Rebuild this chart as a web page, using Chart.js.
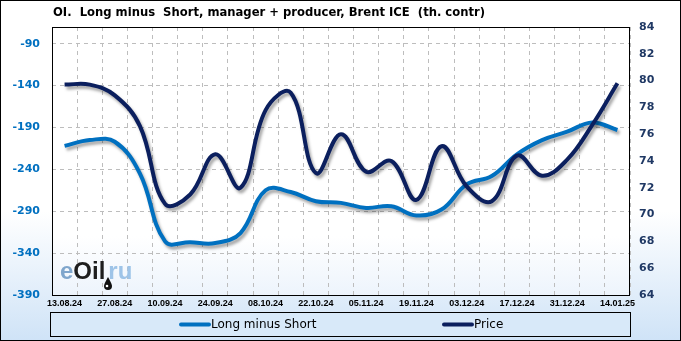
<!DOCTYPE html>
<html>
<head>
<meta charset="utf-8">
<script src="https://cdn.jsdelivr.net/npm/chart.js@4.4.1/dist/chart.umd.min.js"></script>
<style>
  html, body { margin: 0; padding: 0; background: #fff; }
  #chartCanvas { display: block; }
</style>
</head>
<body>
<canvas id="chartCanvas" width="681" height="341"></canvas>
<script>
// weekly dates (every other one is shown on the axis)
const dates = ['13.08.24', '20.08.24', '27.08.24', '03.09.24', '10.09.24', '17.09.24', '24.09.24',
    '01.10.24', '08.10.24', '15.10.24', '22.10.24', '29.10.24', '05.11.24', '12.11.24', '19.11.24',
    '26.11.24', '03.12.24', '10.12.24', '17.12.24', '24.12.24', '31.12.24', '07.01.25', '14.01.25'];

// Long minus Short, th. contracts (left axis)
const longMinusShort = [-212, -205, -207, -245, -326, -327, -328, -316, -265, -267, -278, -280,
    -286, -284, -295, -288, -258, -248, -222, -205, -195, -184, -193];

// Brent price (right axis)
const price = [79.7, 79.7, 78.9, 76.6, 70.8, 71.5, 74.5, 72.0, 77.8, 79.1, 73.1, 76.0,
    73.2, 74.0, 71.1, 75.1, 72.1, 71.0, 74.4, 72.9, 74.1, 76.7, 79.8];

const leftTicks = [-390, -340, -290, -240, -190, -140, -90];
const rightTicks = [64, 66, 68, 70, 72, 74, 76, 78, 80, 82, 84];

const title = 'OI.  Long minus  Short, manager + producer, Brent ICE  (th. contr)';

const colorLong = '#0070c0';
const colorPrice = '#0b1f5e';

// background, plot area fill, watermark
const backgroundPlugin = {
    id: 'background',
    beforeDraw(chart) {
        const ctx = chart.ctx;
        const a = chart.chartArea;
        ctx.save();
        let g = ctx.createLinearGradient(0, 0, 0, chart.height);
        g.addColorStop(0, '#ffffff');
        g.addColorStop(0.62, '#ffffff');
        g.addColorStop(1, '#cfe3f7');
        ctx.fillStyle = g;
        ctx.fillRect(0, 0, chart.width, chart.height);

        g = ctx.createLinearGradient(0, a.top, 0, a.bottom);
        g.addColorStop(0, '#ffffff');
        g.addColorStop(0.78, '#ffffff');
        g.addColorStop(1, '#edf4fc');
        ctx.fillStyle = g;
        ctx.fillRect(a.left, a.top, a.right - a.left, a.bottom - a.top);
        ctx.restore();
    },
    beforeDatasetsDraw(chart) {
        const ctx = chart.ctx;
        ctx.save();
        ctx.font = 'bold 24px "Liberation Sans"';
        ctx.textBaseline = 'alphabetic';
        let x = 60;
        const y = 279;
        ctx.fillStyle = '#7fa6cc';
        ctx.fillText('e', x, y);
        x += ctx.measureText('e').width;
        ctx.fillStyle = '#1e1e1e';
        ctx.fillText('Oil', x, y);
        x += ctx.measureText('Oil').width + 3;
        ctx.fillStyle = '#9ec4e8';
        ctx.fillText('ru', x, y);
        // small oil drop under the "l"
        ctx.fillStyle = '#111';
        ctx.beginPath();
        ctx.moveTo(108, 277);
        ctx.quadraticCurveTo(104, 284, 104, 286);
        ctx.arc(108, 286, 4, Math.PI, 0, true);
        ctx.quadraticCurveTo(112, 284, 108, 277);
        ctx.fill();
        ctx.fillStyle = '#fff';
        ctx.beginPath();
        ctx.arc(107, 286, 1.3, 0, Math.PI * 2);
        ctx.fill();
        ctx.restore();
    }
};

// soft shadow under the lines
const shadowPlugin = {
    id: 'lineShadow',
    beforeDatasetDraw(chart) {
        const ctx = chart.ctx;
        ctx.save();
        ctx.shadowColor = 'rgba(0, 0, 0, 0.35)';
        ctx.shadowBlur = 3;
        ctx.shadowOffsetX = 2;
        ctx.shadowOffsetY = 3;
    },
    afterDatasetDraw(chart) {
        chart.ctx.restore();
    }
};

// frames, title and the boxed legend
const framePlugin = {
    id: 'frames',
    afterDraw(chart) {
        const ctx = chart.ctx;
        const a = chart.chartArea;
        ctx.save();
        ctx.strokeStyle = '#000';
        ctx.lineWidth = 1;
        ctx.strokeRect(a.left + 0.5, a.top + 0.5, a.right - a.left - 1, a.bottom - a.top);
        ctx.strokeRect(0.5, 0.5, chart.width - 1, chart.height - 1);

        ctx.fillStyle = '#000';
        ctx.font = 'bold 11.6px "DejaVu Sans"';
        ctx.textBaseline = 'middle';
        ctx.fillText(title, 53, 13);

        // legend box
        const top = 312, bottom = 336;
        ctx.fillStyle = '#d8e9f9';
        ctx.fillRect(50, top, 581, bottom - top);
        ctx.strokeRect(50.5, top + 0.5, 580, bottom - top);

        const items = [
            { ds: chart.data.datasets[0], x: 181 },
            { ds: chart.data.datasets[1], x: 444 }
        ];
        ctx.font = '12px "DejaVu Sans"';
        items.forEach(it => {
            const y = (top + bottom) / 2 + 0.5;
            ctx.strokeStyle = it.ds.borderColor;
            ctx.lineWidth = 4;
            ctx.lineCap = 'round';
            ctx.beginPath();
            ctx.moveTo(it.x, y);
            ctx.lineTo(it.x + 28, y);
            ctx.stroke();
            ctx.fillStyle = '#000';
            ctx.fillText(it.ds.label, it.x + 30, y);
        });
        ctx.restore();
    }
};

const ctx = document.getElementById('chartCanvas').getContext('2d');

window.myChart = new Chart(ctx, {
    type: 'line',
    data: {
        labels: dates,
        datasets: [{
            label: 'Long minus Short',
            data: longMinusShort,
            yAxisID: 'y',
            borderColor: colorLong,
            borderWidth: 4,
            tension: 0.4,
            pointRadius: 0,
            order: 1
        }, {
            label: 'Price',
            data: price,
            yAxisID: 'y1',
            borderColor: colorPrice,
            borderWidth: 4,
            tension: 0.4,
            pointRadius: 0,
            order: 0
        }]
    },
    options: {
        responsive: false,
        animation: false,
        devicePixelRatio: 1,
        layout: { padding: { top: 27, bottom: 29, left: 0, right: 0 } },
        plugins: {
            legend: { display: false },
            title: { display: false },
            tooltip: { enabled: false }
        },
        scales: {
            x: {
                type: 'category',
                offset: true,
                afterFit(scale) { scale.height = 17; },
                grid: { offset: true, color: '#bdbdbd', drawTicks: false },
                border: { display: false, dash: [4, 4] },
                ticks: {
                    autoSkip: false,
                    maxRotation: 0,
                    padding: 3,
                    color: '#000',
                    font: { family: 'Liberation Sans', size: 9, weight: 'bold' },
                    callback: function(value, index) {
                        return index % 2 === 0 ? this.getLabelForValue(value) : '';
                    }
                }
            },
            y: {
                position: 'left',
                min: -390,
                max: -70,
                afterBuildTicks(scale) { scale.ticks = leftTicks.map(v => ({ value: v })); },
                afterFit(scale) { scale.width = 52; },
                grid: { color: '#bdbdbd', drawTicks: false },
                border: { display: false, dash: [4, 4] },
                ticks: {
                    padding: 12,
                    color: colorLong,
                    font: { family: 'DejaVu Sans', size: 11, weight: 'bold' }
                }
            },
            y1: {
                position: 'right',
                min: 64,
                max: 84,
                afterBuildTicks(scale) { scale.ticks = rightTicks.map(v => ({ value: v })); },
                afterFit(scale) { scale.width = 51; },
                grid: { display: false, drawTicks: false },
                border: { display: false },
                ticks: {
                    padding: 9,
                    color: '#1f3864',
                    font: { family: 'DejaVu Sans', size: 11, weight: 'bold' }
                }
            }
        }
    },
    plugins: [backgroundPlugin, shadowPlugin, framePlugin]
});
</script>
</body>
</html>
